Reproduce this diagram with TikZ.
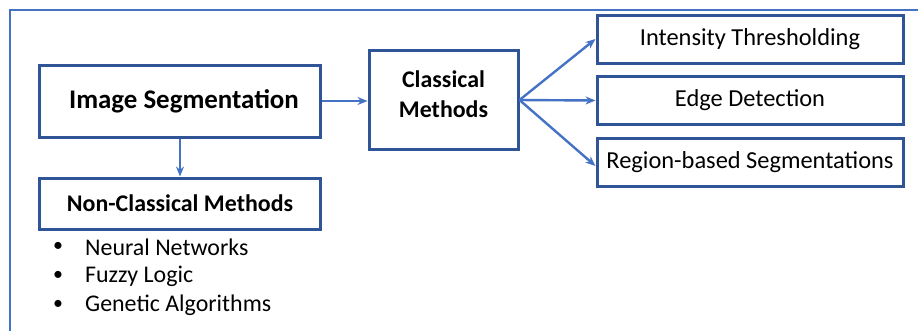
\documentclass[tikz,border=0pt]{standalone}
\usepackage{fontspec}
\setmainfont{Carlito}
\usepackage{xcolor}
\usepackage{tikz}
\usetikzlibrary{arrows.meta}
\definecolor{boxblue}{HTML}{2F5597}
\definecolor{lineblue}{HTML}{4472C4}

\begin{document}
\begin{tikzpicture}[x=1bp, y=-1bp]
      \tikzstyle{box} = [rectangle, draw=boxblue, line width=3bp, fill=white, inner sep=0pt, align=center]
      \tikzstyle{link} = [->, line width=2.4bp, draw=lineblue, >={Stealth[length=10bp, width=8bp]}]
      \tikzstyle{item} = [anchor=west, inner sep=0pt, font=\fontsize{24}{28}\selectfont]
      \tikzstyle{dot} = [anchor=center, inner sep=0pt, font=\fontsize{20}{24}\selectfont]
      \useasboundingbox (0,0) rectangle (918,331);
      \draw[lineblue, line width=1.5bp] (918,10) -- (10,10) -- (10,331); % frame
      \node[box, minimum width=280bp, minimum height=72bp, font=\fontsize{27}{32}\selectfont\bfseries] (imgseg) at (180,101) {\hspace*{8bp}Image Segmentation};
      \node[box, minimum width=149bp, minimum height=99bp, font=\fontsize{24}{30}\selectfont\bfseries] (classical) at (443.5,100) {Classical\\Methods\\[-18bp]\mbox{}};
      \node[box, minimum width=306bp, minimum height=48bp, font=\fontsize{24.5}{29}\selectfont] (thresh) at (750,39) {Intensity Thresholding};
      \node[box, minimum width=306bp, minimum height=48bp, font=\fontsize{24.5}{29}\selectfont] (edge) at (750,100.5) {Edge Detection};
      \node[box, minimum width=306bp, minimum height=48bp, font=\fontsize{24.5}{29}\selectfont] (region) at (750,162) {Region-based Segmentations};
      \node[box, minimum width=280bp, minimum height=51bp, font=\fontsize{24}{28}\selectfont\bfseries] (nonclassical) at (180,203.5) {Non-Classical Methods};
      \node[dot] (b1) at (58,247) {\textbullet};
      \node[item] (neural) at (85,247) {Neural Networks};
      \node[dot] (b2) at (58,276) {\textbullet};
      \node[item] (fuzzy) at (85,276) {Fuzzy Logic};
      \node[dot] (b3) at (58,305) {\textbullet};
      \node[item] (genetic) at (85,305) {Genetic Algorithms};
      \draw[link] (imgseg.east) -- (imgseg.east -| classical.west);
      \draw[link] (imgseg.south) -- (nonclassical.north);
      \draw[link] (classical.east) -- (thresh.west);
      \draw[link] (classical.east) -- (edge.west);
      \draw[link] (classical.east) -- ([yshift=-4bp]region.west);
    \end{tikzpicture}
\end{document}
